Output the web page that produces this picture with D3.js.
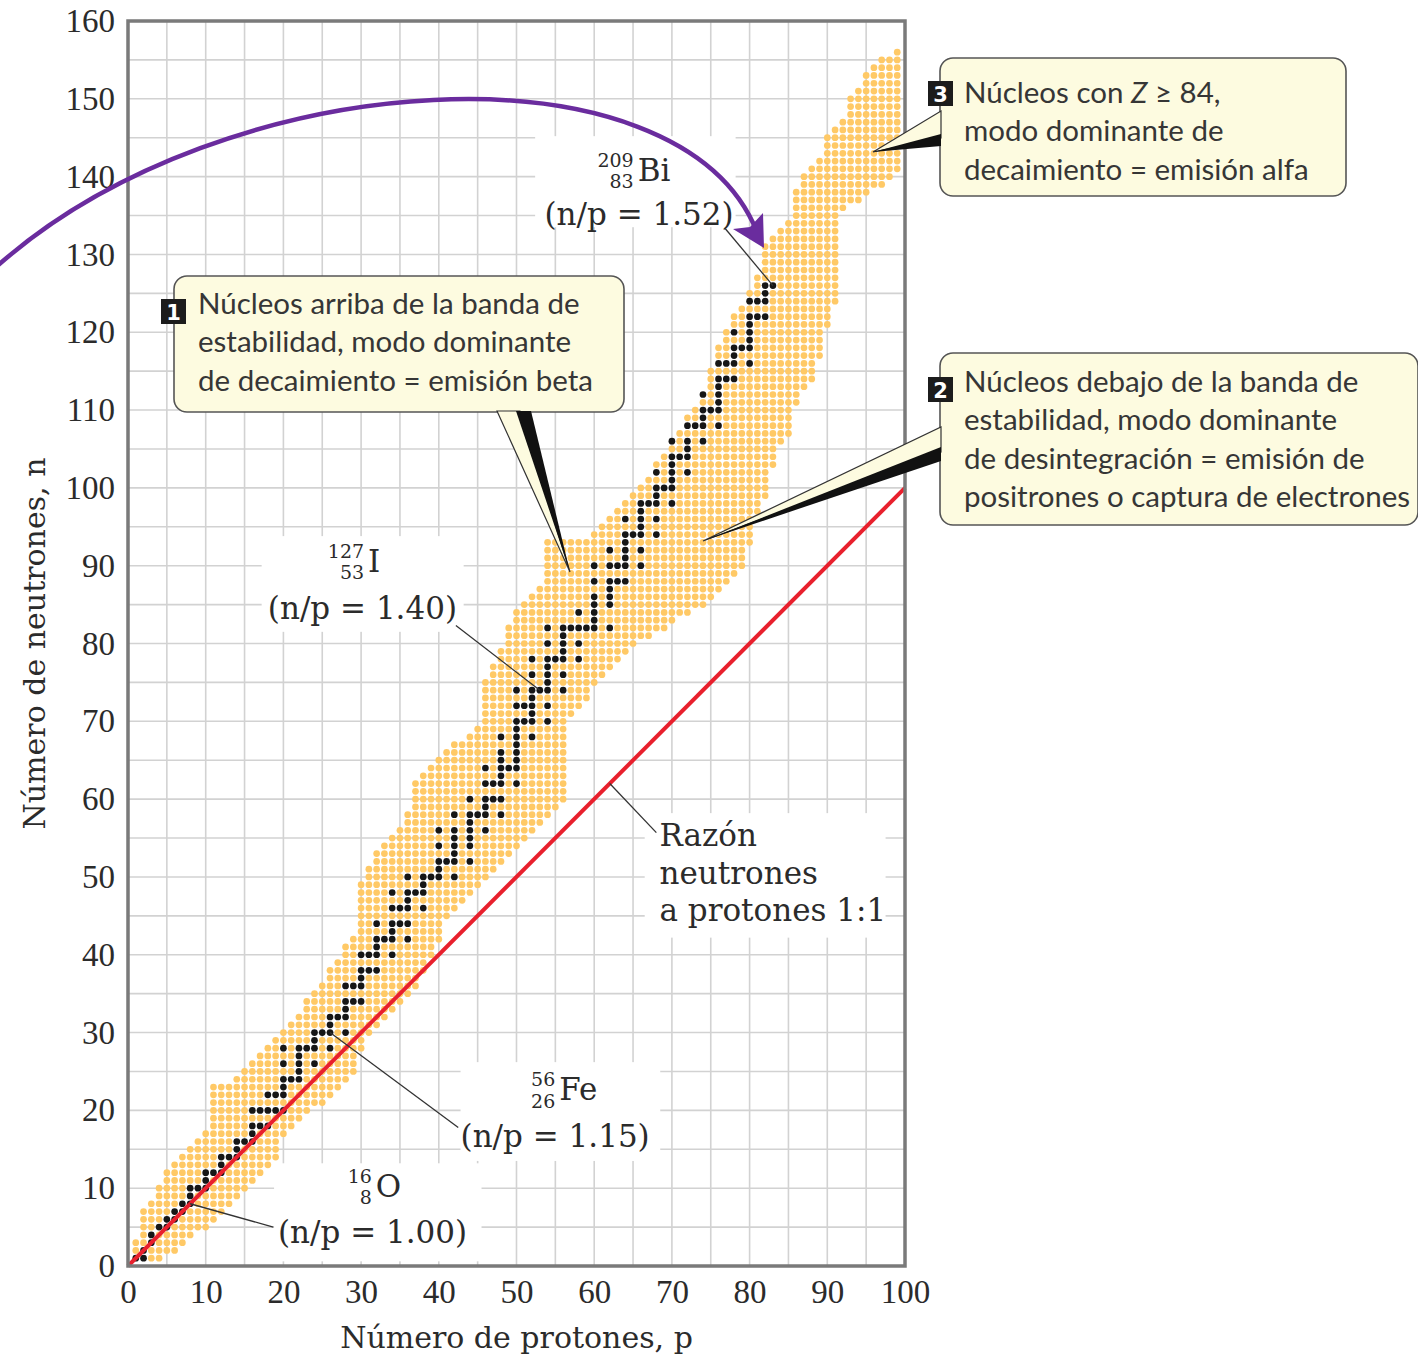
<!DOCTYPE html>
<html><head><meta charset="utf-8">
<script src="https://cdn.jsdelivr.net/npm/d3@7"></script>
<style>body{margin:0;background:#fff}svg{display:block}</style>
</head><body>
<svg id="chart" width="1418" height="1356"></svg>
<script>
// ---------- data ----------
const xTicks = [0,10,20,30,40,50,60,70,80,90,100];
const yTicks = [0,10,20,30,40,50,60,70,80,90,100,110,120,130,140,150,160];
const gridValuesX = d3.range(0, 101, 5);
const gridValuesY = d3.range(0, 161, 5);

// stable nuclides: neutron numbers for Z = 1..83
const stableN = [
 [1],[1,2],[3,4],[5],[5,6],[6,7],[7,8],[8,9,10],[10],[10,11,12],
 [12],[12,13,14],[14],[14,15,16],[16],[16,17,18,20],[18,20],[18,20,22],[20,22],[20,22,23,24,26,28],
 [24],[24,25,26,27,28],[28],[26,28,29,30],[30],[28,30,31,32],[32],[30,32,33,34,36],[34,36],[34,36,37,38,40],
 [38,40],[38,40,41,42,44],[42],[40,42,43,44,46,48],[44,46],[42,44,46,47,48,50],[48],[46,48,49,50],[50],[50,51,52,54,56],
 [52],[50,52,53,54,55,56,58],[],[52,54,55,56,57,58,60],[58],[56,58,59,60,62,64],[60,62],[58,60,62,63,64,65,66,68],[64],[62,64,65,66,67,68,69,70,72,74],
 [70,72],[68,70,71,72,73,74,76,78],[74],[70,72,74,75,76,77,78,80,82],[78],[74,76,78,79,80,81,82],[82],[78,80,82,84],[82],[82,83,84,85,86,88,90],
 [],[82,85,86,87,88,90,92],[88,90],[88,90,91,92,93,94,96],[94],[90,92,94,95,96,97,98],[98],[94,96,98,99,100,102],[100],[98,100,101,102,103,104,106],
 [104],[102,104,105,106,108],[108],[106,108,109,110,112],[110],[108,110,111,112,113,114,116],[114,116],[114,116,117,118,120],[118],[116,118,119,120,121,122,124],
 [122,124],[122,124,125,126],[126]
];

// outline of the band of known nuclei, (p, n) vertices
const bandLowerEdge = [[0.5,0.5],[3.5,0.5],[5.5,1.5],[9.5,4.5],[14.5,9.5],[19.5,14.5],[19.5,16.5],[24.5,20.5],[27.5,23.5],[29.5,25.5],[30.5,28.5],[31.5,30.5],[37.5,35.5],[38.5,38.5],[40.5,42.5],[41.5,45.5],[44.5,47.5],[48.5,52.5],[56.5,60.5],[56.5,70.5],[59.5,73.5],[62.5,77.5],[66.5,80.5],[73.5,84.5],[79.5,89.5],[80.5,95.5],[82.5,99.5],[83.5,105.5],[85.5,107.5],[86.5,112.5],[88.5,114.5],[89.5,118.5],[91.5,124.5],[91.5,135.5],[96.5,138.5],[99.5,141.5],[99.5,156.5]];
const bandUpperEdge = [[98.5,156.5],[97.5,155.5],[95.5,154.5],[94.5,152.5],[93.5,151.5],[92.5,148.5],[90.5,146.5],[89.5,143.5],[86.5,140.5],[85.5,135.5],[82.5,132.5],[81.5,131.5],[81.5,128.5],[76.5,119.5],[73.5,111.5],[71.5,108.5],[67.5,102.5],[63.5,98.5],[59.5,93.5],[53.5,93.5],[53.5,88.5],[50.5,85.5],[47.5,78.5],[45.5,74.5],[45.5,70.5],[42.5,67.5],[36.5,62.5],[36.5,59.5],[35.5,57.5],[32.5,54.5],[30.5,50.5],[29.5,47.5],[29.5,43.5],[27.5,40.5],[25.5,37.5],[22.5,33.5],[18.5,29.5],[15.5,26.5],[12.5,23.5],[10.5,23.5],[10.5,17.5],[8.5,16.5],[6.5,14.5],[5.5,13.5],[4.5,11.5],[3.5,9.5],[2.5,8.5],[1.5,7.5],[1.5,3.5],[0.5,3.5]];

const ratioLine = [[0,0],[100,100]];

const isotopeLabels = [
  {A:"209", Z:"83", sym:"Bi", ratio:"(n/p = 1.52)", p:83, n:126},
  {A:"127", Z:"53", sym:"I",  ratio:"(n/p = 1.40)", p:53, n:74},
  {A:"56",  Z:"26", sym:"Fe", ratio:"(n/p = 1.15)", p:26, n:30},
  {A:"16",  Z:"8",  sym:"O",  ratio:"(n/p = 1.00)", p:8,  n:8}
];
const ratioLabelLines = ["Razón", "neutrones", "a protones 1:1"];
const callout1 = ["Núcleos arriba de la banda de", "estabilidad, modo dominante", "de decaimiento = emisión beta"];
const callout2 = ["Núcleos debajo de la banda de", "estabilidad, modo dominante", "de desintegración = emisión de", "positrones o captura de electrones"];
const callout3 = ["modo dominante de", "decaimiento = emisión alfa"];

// ---------- drawing ----------
const svg = d3.select("#chart");
const x = d3.scaleLinear().domain([0,100]).range([128,905]);
const y = d3.scaleLinear().domain([0,160]).range([1266,21]);
const serif = "'DejaVu Serif', serif";
const tickFont = "'Liberation Serif', serif";
const sans = "Lato, 'Open Sans', sans-serif";
const textCol = "#2b2b2b";

// grid
const grid = svg.append("g");
grid.selectAll("line.gx").data(gridValuesX).join("line")
  .attr("x1", d=>x(d)).attr("x2", d=>x(d)).attr("y1", y(0)).attr("y2", y(160))
  .attr("stroke", "#d2d2d2").attr("stroke-width", 1.6);
grid.selectAll("line.gy").data(gridValuesY).join("line")
  .attr("y1", d=>y(d)).attr("y2", d=>y(d)).attr("x1", x(0)).attr("x2", x(100))
  .attr("stroke", "#d2d2d2").attr("stroke-width", 1.6);

// white label backgrounds (hide grid)
const bgBoxes = [
  [x(52.4), y(145.2), x(78.2), y(133.5)],
  [x(17.2), y(93.8), x(43.2), y(81.5)],
  [x(42.8), y(26.2), x(68.5), y(13.5)],
  [x(18.8), y(13.2), x(45.5), y(0.6)],
  [x(66.5), y(58.2), x(97.5), y(42.2)]
];
svg.append("g").selectAll("rect").data(bgBoxes).join("rect")
  .attr("x", d=>d[0]).attr("y", d=>d[1]).attr("width", d=>d[2]-d[0]).attr("height", d=>d[3]-d[1])
  .attr("fill", "#fff");

// band of nuclei
const polygon = bandLowerEdge.concat(bandUpperEdge);
const stableSet = new Set();
stableN.forEach((ns, i) => ns.forEach(n => stableSet.add((i+1) + "_" + n)));
const bandPts = [];
for (let p = 0; p <= 100; p++) {
  for (let n = 0; n <= 160; n++) {
    if (stableSet.has(p + "_" + n)) continue;
    if (d3.polygonContains(polygon, [p + 0.001, n + 0.002])) bandPts.push([p, n]);
  }
}
const stablePts = [];
stableN.forEach((ns, i) => ns.forEach(n => stablePts.push([i+1, n])));

svg.append("g").selectAll("circle").data(bandPts).join("circle")
  .attr("cx", d=>x(d[0])).attr("cy", d=>y(d[1])).attr("r", 3.35).attr("fill", "#ffc966");
svg.append("g").selectAll("circle").data(stablePts).join("circle")
  .attr("cx", d=>x(d[0])).attr("cy", d=>y(d[1])).attr("r", 3.35).attr("fill", "#161616");

// 1:1 line
svg.append("path").datum(ratioLine)
  .attr("d", d3.line().x(d=>x(d[0])).y(d=>y(d[1])))
  .attr("stroke", "#e8202d").attr("stroke-width", 4).attr("fill", "none");

// frame
svg.append("rect").attr("x", x(0)).attr("y", y(160)).attr("width", x(100)-x(0)).attr("height", y(0)-y(160))
  .attr("fill", "none").attr("stroke", "#7a7a7a").attr("stroke-width", 3.5);

// axes
const ax = svg.append("g").attr("transform", `translate(0,${y(0)})`)
  .call(d3.axisBottom(x).tickValues(xTicks).tickSize(0).tickPadding(14));
const ay = svg.append("g").attr("transform", `translate(${x(0)},0)`)
  .call(d3.axisLeft(y).tickValues(yTicks).tickSize(0).tickPadding(13));
[ax, ay].forEach(g => {
  g.select(".domain").remove();
  g.selectAll("text").attr("font-family", tickFont).attr("font-size", 33).attr("fill", textCol);
});

svg.append("text").attr("x", (x(0)+x(100))/2).attr("y", 1348).attr("text-anchor", "middle")
  .attr("font-family", serif).attr("font-size", 30).attr("fill", textCol).text("Número de protones, p");
svg.append("text").attr("transform", `translate(45,${(y(0)+y(160))/2}) rotate(-90)`).attr("text-anchor", "middle")
  .attr("font-family", serif).attr("font-size", 30).attr("fill", textCol).text("Número de neutrones, n");

// isotope labels
const labelPos = [
  {sx: x(65.6), sy: y(139.5), rx: x(53.6), ry: y(133.8), lx1: x(76.8), ly1: y(133.4)},
  {sx: x(30.9), sy: y(89.2), rx: x(18.0), ry: y(83.2), lx1: x(42.2), ly1: y(82.3)},
  {sx: x(55.5), sy: y(21.3), rx: x(42.8), ry: y(15.3), lx1: x(42.5), ly1: y(17.8)},
  {sx: x(31.9), sy: y(8.9), rx: x(19.3), ry: y(2.9), lx1: x(18.7), ly1: y(5.0)}
];
isotopeLabels.forEach((d, i) => {
  const L = labelPos[i];
  const g = svg.append("g").attr("font-family", serif).attr("fill", textCol);
  g.append("text").attr("x", L.sx - 4).attr("y", L.sy - 14).attr("text-anchor", "end").attr("font-size", 19).text(d.A);
  g.append("text").attr("x", L.sx - 4).attr("y", L.sy + 7.5).attr("text-anchor", "end").attr("font-size", 19).text(d.Z);
  g.append("text").attr("x", L.sx).attr("y", L.sy).attr("font-size", 31).text(d.sym);
  g.append("text").attr("x", L.rx).attr("y", L.ry).attr("font-size", 31).text(d.ratio);
  svg.append("line").attr("x1", L.lx1).attr("y1", L.ly1).attr("x2", x(d.p)).attr("y2", y(d.n))
    .attr("stroke", "#333").attr("stroke-width", 1.3);
});

// 1:1 ratio label
const rl = svg.append("g").attr("font-family", serif).attr("font-size", 31).attr("fill", textCol);
ratioLabelLines.forEach((t, i) => rl.append("text").attr("x", x(68.4)).attr("y", 846 + i*37.5).text(t));
svg.append("line").attr("x1", x(68.0)).attr("y1", y(55.7)).attr("x2", x(62)).attr("y2", y(62))
  .attr("stroke", "#333").attr("stroke-width", 1.3);

// purple arrow
const arrowPath = d3.path();
arrowPath.moveTo(-5, 268);
arrowPath.bezierCurveTo(225, 62, 680, 38, 757, 232);
svg.append("path").attr("d", arrowPath.toString()).attr("fill", "none").attr("stroke", "#6a2c9e").attr("stroke-width", 4.5);
svg.append("path").attr("d", "M764,248 L733,229 L750,227 L763,213 Z").attr("fill", "#6a2c9e");

// callouts
function callout(box, wedgeLight, wedgeDark, badge, num, lines, textX, base0, firstLineFn) {
  const g = svg.append("g");
  g.append("rect").attr("x", box[0]).attr("y", box[1]).attr("width", box[2]).attr("height", box[3])
    .attr("rx", 13).attr("fill", "#fdfbe0").attr("stroke", "#555").attr("stroke-width", 1.6);
  g.append("path").attr("d", "M" + wedgeLight.join("L") + "Z").attr("fill", "#fdfbe0").attr("stroke", "#333").attr("stroke-width", 1.2);
  g.append("path").attr("d", "M" + wedgeDark.join("L") + "Z").attr("fill", "#111");
  g.append("rect").attr("x", badge[0]).attr("y", badge[1]).attr("width", 25).attr("height", 25).attr("fill", "#1c1c1c");
  g.append("text").attr("x", badge[0] + 12.5).attr("y", badge[1] + 21).attr("text-anchor", "middle")
    .attr("font-family", "'DejaVu Sans', sans-serif").attr("font-weight", "bold").attr("font-size", 21).attr("fill", "#fff").text(num);
  const tg = g.append("g").attr("font-family", sans).attr("font-size", 29.5).attr("fill", "#363636");
  let k = 0;
  if (firstLineFn) { firstLineFn(tg.append("text").attr("x", textX).attr("y", base0)); k = 1; }
  lines.forEach((t, i) => tg.append("text").attr("x", textX).attr("y", base0 + (i + k) * 38.3).text(t));
}

callout([174, 276, 450, 136], [[497,411],[520,411],[570,572]], [[516,411],[531,411],[570,572]],
  [161, 299], "1", callout1, 198, 314);
callout([940, 353, 478, 172], [[941,427],[941,452],[703,541]], [[941,447],[941,461],[703,541]],
  [928, 377], "2", callout2, 964, 392);
callout([940, 58, 406, 138], [[941,111],[941,138],[873,152]], [[941,134],[941,146],[873,152]],
  [928, 81], "3", callout3, 964, 103, t => {
    t.append("tspan").text("Núcleos con ");
    t.append("tspan").attr("font-style", "italic").text("Z");
    t.append("tspan").text(" ≥ 84,");
  });
</script>
</body></html>
